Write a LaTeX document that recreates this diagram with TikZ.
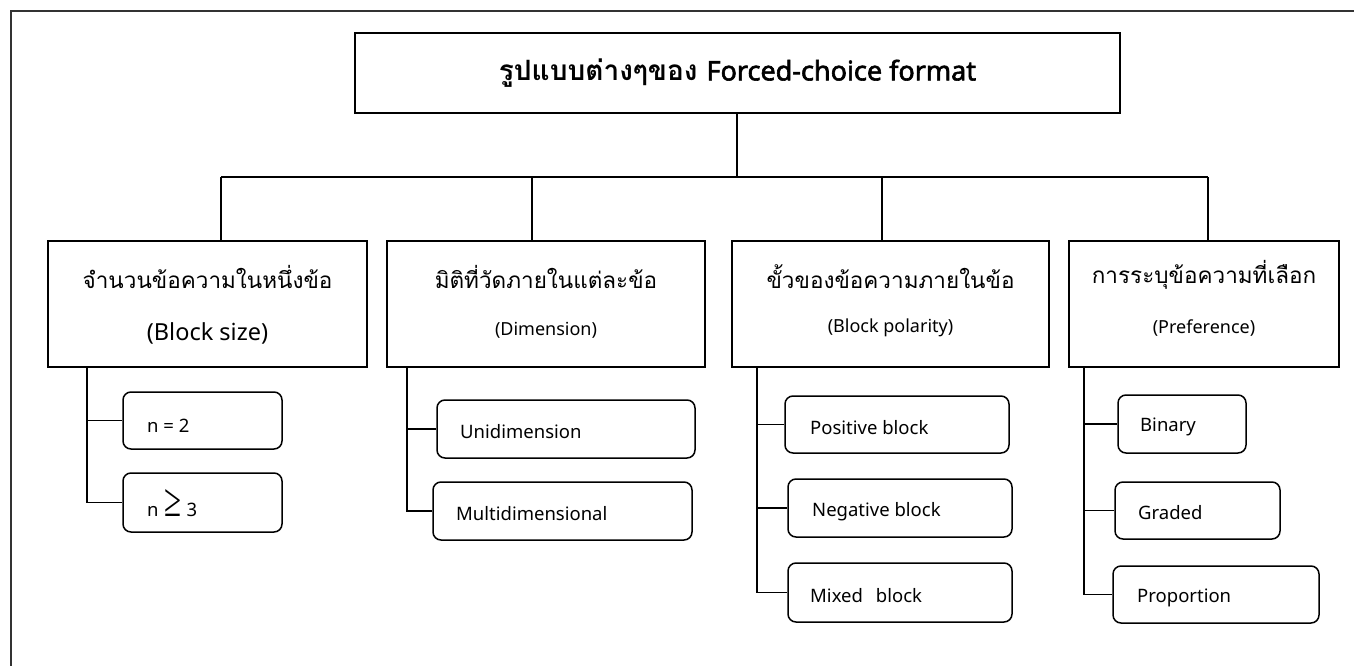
\documentclass[tikz,border=0pt]{standalone}
\usepackage{graphicx}
\usepackage{fontspec}
\setmainfont{Noto Sans}
\newfontfamily\latb{Noto Sans}[FakeBold=2.2]
\newfontfamily\thai[Script=Thai]{Loma}
\newfontfamily\symf{Liberation Serif}
\begin{document}
\begin{tikzpicture}[x=1pt,y=-1pt,
  frame/.style={line width=1.6pt,draw=black!80},
  box/.style={draw,line width=1.5pt,inner sep=0pt},
  subbox/.style={draw,line width=1.5pt,rounded corners=8pt,inner sep=0pt},
  conn/.style={line width=1.5pt},
  thaitxt/.style={inner sep=0pt,font=\thai\fontsize{22.5}{26}\selectfont},
  bigen/.style={inner sep=0pt,font=\fontsize{23.5}{27}\selectfont},
  smallen/.style={inner sep=0pt,font=\fontsize{18}{22}\selectfont},
  subtxt/.style={inner sep=0pt,anchor=west,font=\fontsize{18.5}{22}\selectfont}]
\useasboundingbox (0,0) rectangle (1354,666);
\fill[white] (0,0) rectangle (1354,666);
% outer frame
\coordinate (fa) at (11,666);
\coordinate (fb) at (11,11);
\coordinate (fc) at (1354,11);
\draw[frame] (fa) -- (fb) -- (fc);
% title
\node[box,minimum width=765pt,minimum height=80pt] (title) at (737.5,73) {};
\node[inner sep=0pt] (titlet) at (737.5,73)
  {{\thai\bfseries\fontsize{28}{30}\selectfont รูปแบบต่างๆของ}\hspace{9pt}{\latb\fontsize{27}{30}\selectfont Forced-choice format}};
% level 1 boxes
\node[box,minimum width=319pt,minimum height=126pt] (b1) at (207.5,304) {};
\node[box,minimum width=318pt,minimum height=126pt] (b2) at (546,304) {};
\node[box,minimum width=317pt,minimum height=126pt] (b3) at (890.5,304) {};
\node[box,minimum width=270pt,minimum height=126pt] (b4) at (1204,304) {};
\node[thaitxt] (b1t) at (207.5,277) {จำนวนข้อความในหนึ่งข้อ};
\node[bigen] (b1e) at (207.5,333) {(Block size)};
\node[thaitxt] (b2t) at (546,277) {มิติที่วัดภายในแต่ละข้อ};
\node[smallen] (b2e) at (546,330) {(Dimension)};
\node[thaitxt] (b3t) at (890.5,277) {ขั้วของข้อความภายในข้อ};
\node[smallen] (b3e) at (890.5,328) {(Block polarity)};
\node[thaitxt] (b4t) at (1204,275) {การระบุข้อความที่เลือก};
\node[smallen] (b4e) at (1204,328) {(Preference)};
% tree connectors
\coordinate (bus) at (737,177);
\coordinate (busl) at (221,177);
\coordinate (busr) at (1208,177);
\draw[conn] (title.south -| bus) -- (bus);
\draw[conn] (busl) -- (busr);
\draw[conn] (busl) -- (b1.north -| busl);
\draw[conn] (b2.north -| 532,0) -- (532,177);
\draw[conn] (b3.north -| 882,0) -- (882,177);
\draw[conn] (busr) -- (b4.north -| busr);
% sub boxes column 1
\node[subbox,minimum width=159pt,minimum height=57pt] (s11) at (202.5,420.5) {};
\node[subbox,minimum width=159pt,minimum height=59pt] (s12) at (202.5,502.5) {};
\node[subtxt] (t11) at (147,426) {n = 2};
\node[subtxt,anchor=base west] (t12) at (147,516) {n\hspace{0.3em}{\symf\resizebox{17pt}{27pt}{≥}}\hspace{0.3em}3};
\coordinate (sp1) at (87,367);
\draw[conn] (sp1) |- (s12.west);
\draw[conn] (sp1 |- s11.west) -- (s11.west);
% column 2
\node[subbox,minimum width=258pt,minimum height=58pt] (s21) at (566,429) {};
\node[subbox,minimum width=259pt,minimum height=58pt] (s22) at (562.5,511) {};
\node[subtxt] (t21) at (460,432) {Unidimension};
\node[subtxt] (t22) at (456,514) {Multidimensional};
\coordinate (sp2) at (407,367);
\draw[conn] (sp2) |- (s22.west);
\draw[conn] (sp2 |- s21.west) -- (s21.west);
% column 3
\node[subbox,minimum width=224pt,minimum height=57pt] (s31) at (897,424.5) {};
\node[subbox,minimum width=224pt,minimum height=58pt] (s32) at (900,508) {};
\node[subbox,minimum width=224pt,minimum height=59pt] (s33) at (900,592.5) {};
\node[subtxt] (t31) at (810,428) {Positive block};
\node[subtxt] (t32) at (812,512) {Negative block};
\node[subtxt] (t33) at (810,596) {Mixed\hspace{0.7em}block};
\coordinate (sp3) at (757,367);
\draw[conn] (sp3) |- (s33.west);
\draw[conn] (sp3 |- s31.west) -- (s31.west);
\draw[conn] (sp3 |- s32.west) -- (s32.west);
% column 4
\node[subbox,minimum width=128pt,minimum height=58pt] (s41) at (1182,424) {};
\node[subbox,minimum width=165pt,minimum height=57pt] (s42) at (1197.5,510.5) {};
\node[subbox,minimum width=206pt,minimum height=57pt] (s43) at (1216,594.5) {};
\node[subtxt] (t41) at (1140,427) {Binary};
\node[subtxt] (t42) at (1138,513) {Graded};
\node[subtxt] (t43) at (1137,598) {Proportion};
\coordinate (sp4) at (1084,367);
\draw[conn] (sp4) |- (s43.west);
\draw[conn] (sp4 |- s41.west) -- (s41.west);
\draw[conn] (sp4 |- s42.west) -- (s42.west);
\end{tikzpicture}
\end{document}
